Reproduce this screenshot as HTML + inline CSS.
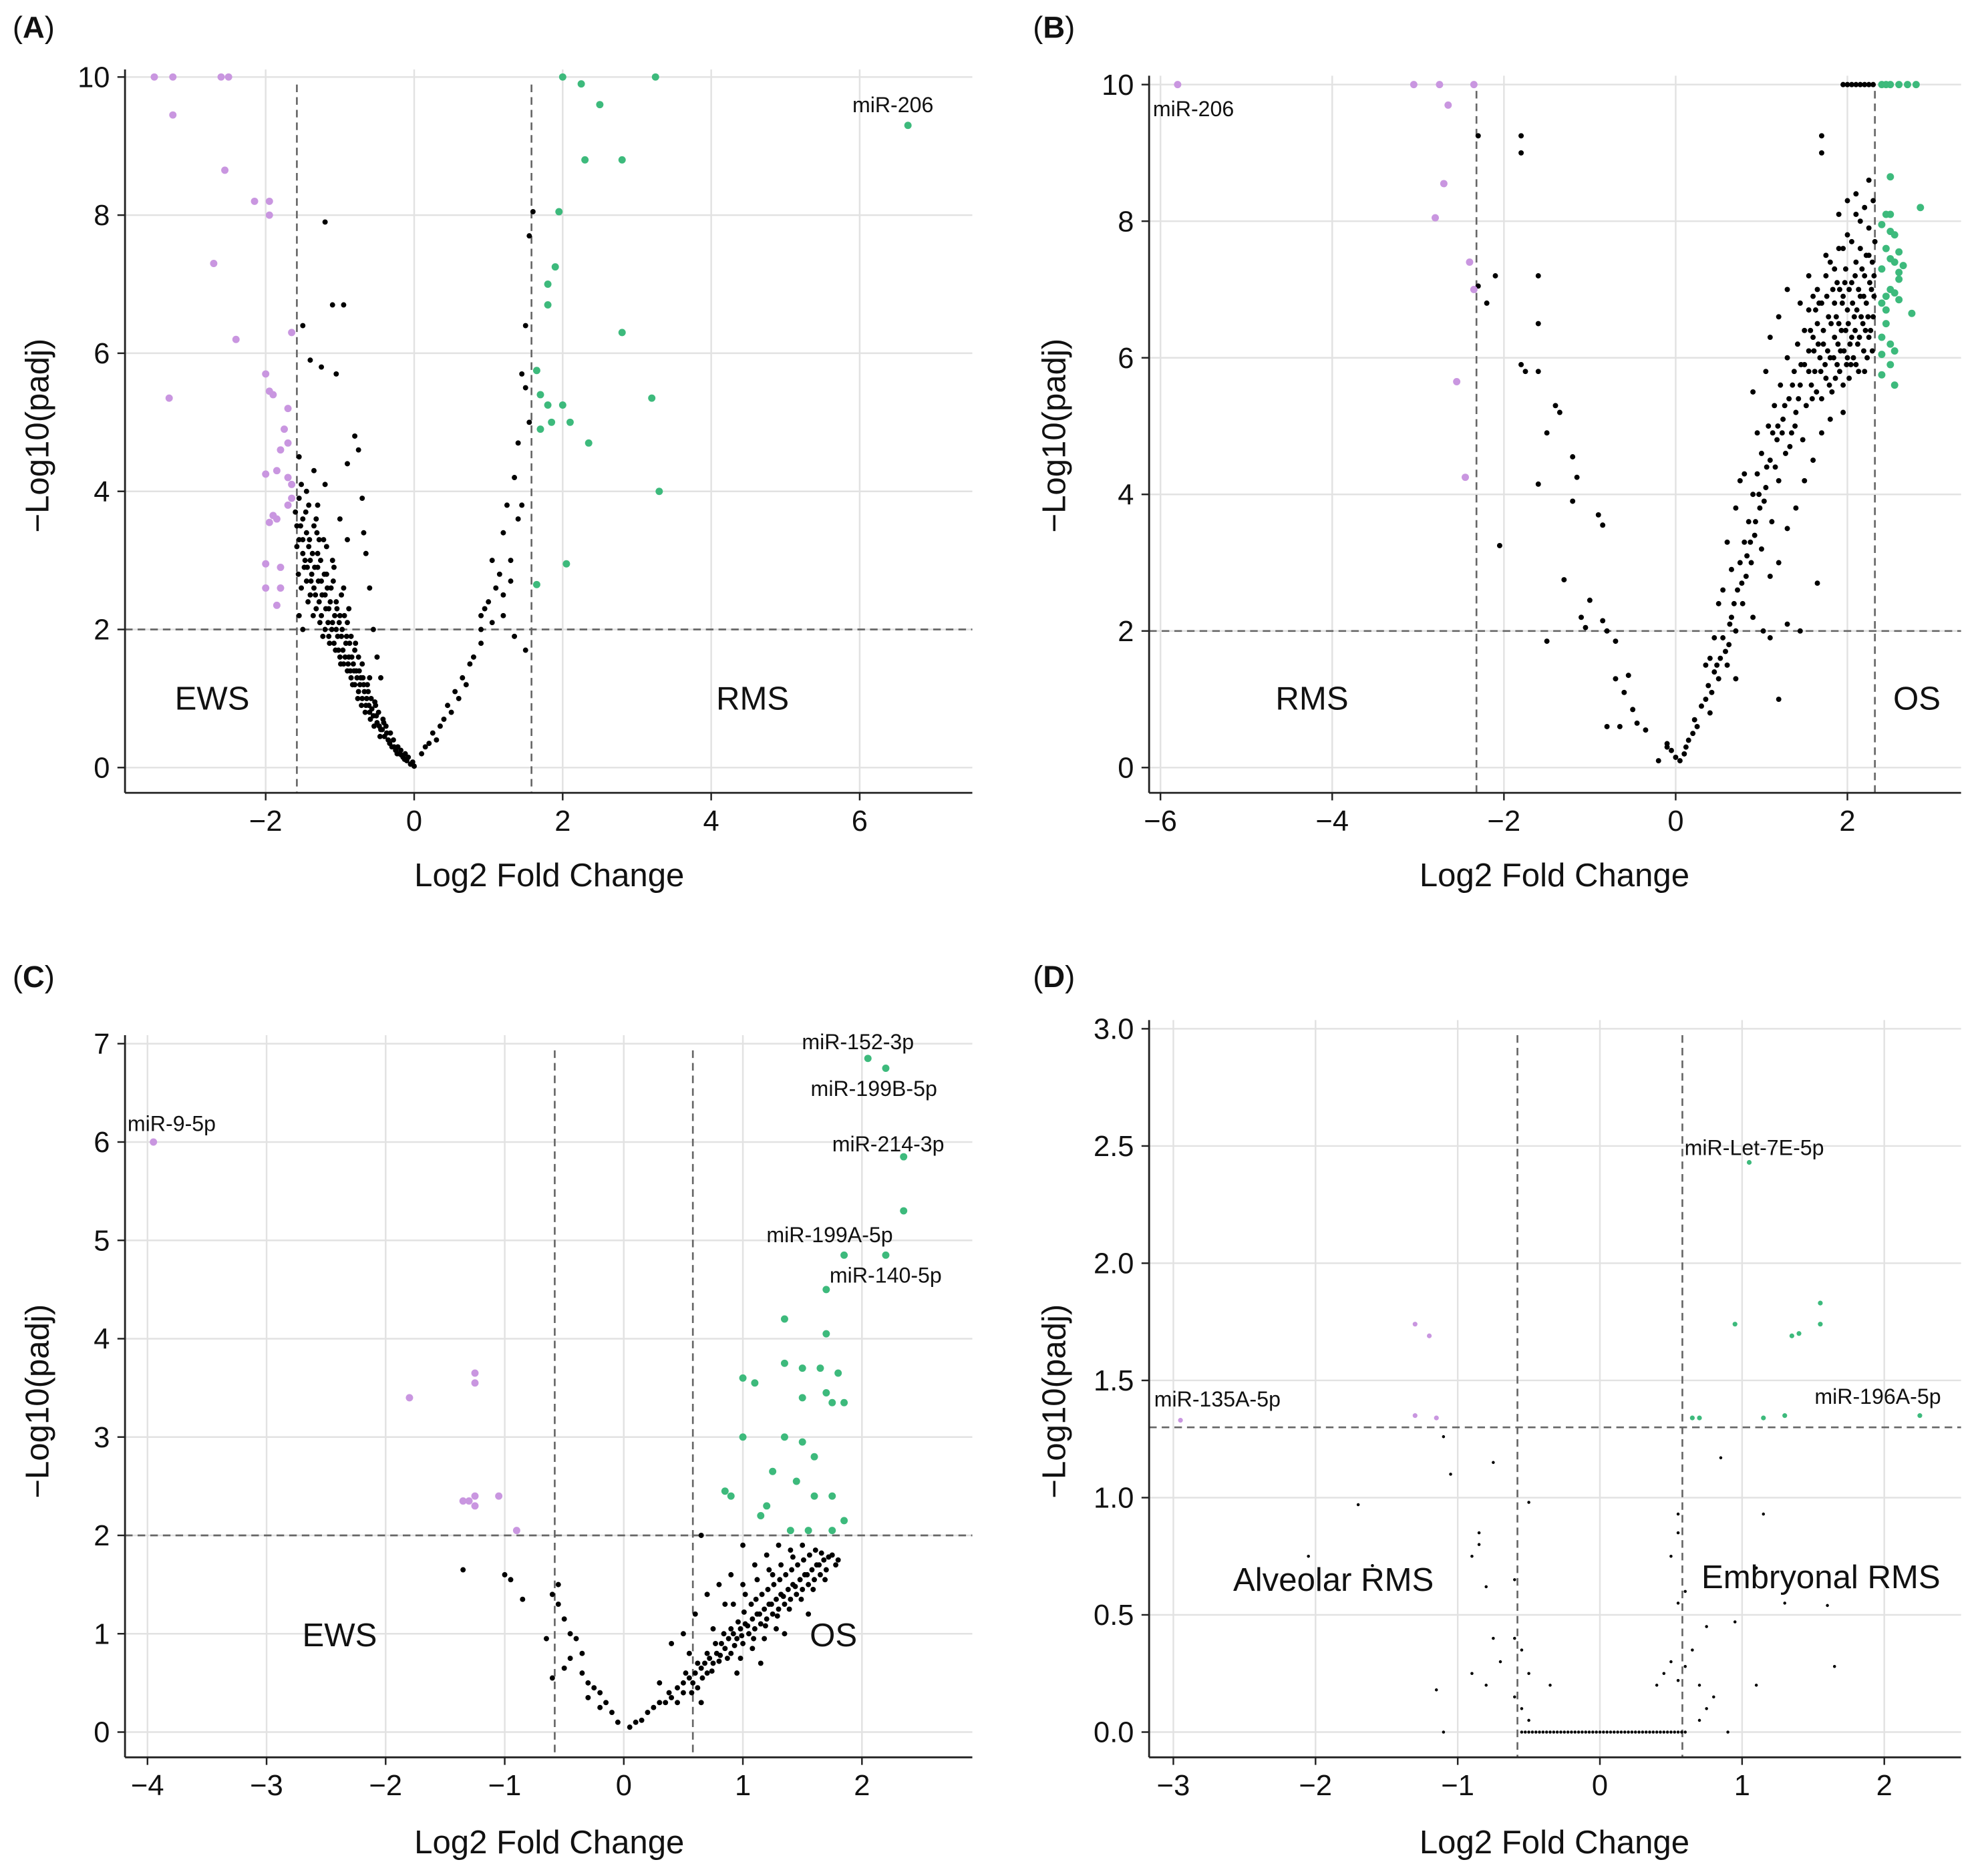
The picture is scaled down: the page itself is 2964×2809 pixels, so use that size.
<!DOCTYPE html>
<html><head><meta charset="utf-8"><style>
html,body{margin:0;padding:0;background:#fff}
svg{display:block;font-family:"Liberation Sans",sans-serif}
</style></head><body>
<svg id="fig" width="2964" height="2809" viewBox="0 0 1568 1486" xmlns="http://www.w3.org/2000/svg"></svg>
<script>
// ---------- DATA ----------
const panelATicksX=[-2,0,2,4,6];
const panelATicksY=[0,2,4,6,8,10];
const panelAPurple=[[-3.5,10],[-3.25,10],[-3.25,9.45],[-2.6,10],[-2.5,10],[-2.55,8.65],[-2.7,7.3],[-2.4,6.2],[-3.3,5.35],[-2.15,8.2],[-1.95,8.2],[-1.95,8.0],[-2.0,5.7],[-1.9,5.4],[-1.95,5.45],[-1.65,6.3],[-1.7,5.2],[-1.75,4.9],[-1.7,4.7],[-1.8,4.6],[-2.0,4.25],[-1.85,4.3],[-1.7,4.2],[-1.65,4.1],[-1.9,3.65],[-1.85,3.6],[-1.95,3.55],[-1.7,3.8],[-1.65,3.9],[-2.0,2.95],[-1.8,2.9],[-2.0,2.6],[-1.8,2.6],[-1.85,2.35]];
const panelAGreen=[[2.0,10],[2.25,9.9],[3.25,10],[2.5,9.6],[2.3,8.8],[2.8,8.8],[1.95,8.05],[1.9,7.25],[1.8,7.0],[1.8,6.7],[2.8,6.3],[1.65,5.75],[1.7,5.4],[1.8,5.25],[2.0,5.25],[1.85,5.0],[2.1,5.0],[1.7,4.9],[2.35,4.7],[3.2,5.35],[3.3,4.0],[2.05,2.95],[1.65,2.65],[6.65,9.3]];
const panelABlack=[[-1.6,3.7],[-1.58,3.5],[-1.55,3.9],[-1.55,3.3],[-1.5,3.6],[-1.5,3.1],[-1.48,2.9],[-1.45,3.4],[-1.45,2.7],[-1.42,3.2],[-1.4,3.0],[-1.4,2.5],[-1.38,2.8],[-1.35,3.5],[-1.35,2.6],[-1.32,2.3],[-1.3,3.1],[-1.3,2.9],[-1.28,2.4],[-1.25,2.7],[-1.25,2.2],[-1.22,3.3],[-1.2,2.5],[-1.2,2.0],[-1.18,2.8],[-1.15,2.3],[-1.15,1.9],[-1.12,2.6],[-1.1,2.1],[-1.1,3.0],[-1.08,1.8],[-1.05,2.4],[-1.05,2.0],[-1.02,1.7],[-1.0,2.2],[-1.0,1.6],[-0.98,1.9],[-0.95,2.6],[-0.95,1.5],[-0.92,1.8],[-0.9,1.4],[-0.9,2.1],[-0.88,1.6],[-0.85,1.3],[-0.85,1.9],[-0.82,1.5],[-0.8,1.2],[-0.8,1.7],[-0.78,1.4],[-0.75,1.1],[-0.75,1.6],[-0.72,1.3],[-0.7,1.0],[-0.7,1.5],[-0.68,1.2],[-0.65,0.9],[-0.62,1.1],[-0.6,0.8],[-0.6,1.3],[-0.58,1.0],[-0.55,0.75],[-0.52,0.9],[-0.5,0.65],[-0.48,0.8],[-0.45,0.55],[-0.42,0.7],[-0.4,0.45],[-0.38,0.6],[-0.35,0.4],[-0.32,0.5],[-0.3,0.3],[-0.28,0.4],[-0.25,0.25],[-0.22,0.3],[-0.2,0.2],[-0.18,0.25],[-0.15,0.15],[-0.12,0.2],[-0.1,0.1],[-0.08,0.15],[-0.05,0.05],[-0.02,0.08],[0,0.02],[-1.2,7.9],[-1.1,6.7],[-0.95,6.7],[-1.4,5.9],[-1.25,5.8],[-1.5,6.4],[-1.05,5.7],[-0.8,4.8],[-0.75,4.6],[-0.9,4.4],[-1.35,4.3],[-1.55,4.5],[-1.2,4.1],[-0.7,3.9],[-0.68,3.4],[-0.65,3.1],[-1.0,3.6],[-0.9,3.3],[-1.3,3.8],[-1.45,4.0],[-0.6,2.6],[-0.55,2.0],[-0.5,1.6],[-0.45,1.3],[-1.55,2.2],[-1.5,2.0],[0.1,0.2],[0.15,0.3],[0.2,0.35],[0.25,0.5],[0.3,0.4],[0.35,0.6],[0.4,0.7],[0.45,0.9],[0.5,0.8],[0.55,1.1],[0.6,1.0],[0.65,1.3],[0.7,1.2],[0.75,1.5],[0.8,1.6],[0.9,2.0],[0.95,2.3],[0.9,1.8],[1.0,2.4],[1.05,2.1],[1.1,2.6],[1.05,3.0],[1.15,2.8],[1.2,3.4],[1.2,2.5],[1.25,3.8],[1.3,3.0],[1.3,2.7],[1.35,4.2],[1.4,3.6],[1.4,4.7],[1.45,3.8],[1.5,1.7],[1.5,5.5],[1.45,5.7],[1.55,5.0],[1.5,6.4],[1.55,7.7],[1.6,8.05],[1.2,2.2],[0.9,2.2],[1.35,1.9]];
const panelABlackDense=[[-1.58,3.2],[-1.56,2.8],[-1.53,3.5],[-1.52,2.6],[-1.5,3.3],[-1.47,3.0],[-1.46,3.7],[-1.44,2.9],[-1.43,2.4],[-1.41,3.3],[-1.39,2.7],[-1.37,3.1],[-1.36,2.2],[-1.34,2.9],[-1.33,2.5],[-1.31,3.4],[-1.29,2.7],[-1.27,2.1],[-1.26,3.0],[-1.24,2.5],[-1.23,1.9],[-1.21,2.8],[-1.19,2.3],[-1.17,2.6],[-1.16,2.1],[-1.14,1.8],[-1.13,2.4],[-1.11,2.0],[-1.09,2.7],[-1.07,2.2],[-1.06,1.7],[-1.04,2.3],[-1.03,1.9],[-1.01,2.1],[-0.99,1.5],[-0.97,2.0],[-0.96,1.7],[-0.94,2.2],[-0.93,1.6],[-0.91,1.9],[-0.89,1.5],[-0.87,1.8],[-0.86,1.4],[-0.84,1.6],[-0.83,1.2],[-0.81,1.4],[-0.79,1.8],[-0.77,1.3],[-0.76,1.0],[-0.74,1.4],[-0.73,1.2],[-0.71,0.9],[-0.69,1.3],[-0.67,1.1],[-0.66,0.8],[-0.64,1.0],[-0.63,1.2],[-0.61,0.9],[-0.59,0.7],[-0.57,0.85],[-0.54,0.6],[-0.53,0.95],[-0.51,0.75],[-0.47,0.6],[-0.46,0.45],[-0.43,0.55],[-0.41,0.65],[-0.37,0.5],[-0.33,0.35],[-0.27,0.3],[-0.23,0.2],[-0.17,0.18],[-0.13,0.12],[-1.52,4.1],[-1.42,3.8],[-1.32,3.6],[-1.18,3.2],[-1.28,3.3],[-1.08,2.9],[-0.98,2.5],[-0.88,2.3]];

const panelBTicksX=[-6,-4,-2,0,2];
const panelBTicksY=[0,2,4,6,8,10];
const panelBPurple=[[-5.8,10],[-3.05,10],[-2.75,10],[-2.35,10],[-2.65,9.7],[-2.7,8.55],[-2.8,8.05],[-2.4,7.4],[-2.35,7.0],[-2.55,5.65],[-2.45,4.25]];
const panelBGreen=[[2.4,10],[2.5,10],[2.6,10],[2.7,10],[2.8,10],[2.45,10],[2.5,8.65],[2.45,8.1],[2.5,8.1],[2.4,7.95],[2.5,7.85],[2.55,7.8],[2.45,7.6],[2.6,7.55],[2.5,7.45],[2.55,7.4],[2.65,7.35],[2.4,7.3],[2.5,7.0],[2.6,7.15],[2.55,6.95],[2.4,6.8],[2.45,6.7],[2.6,6.85],[2.45,6.5],[2.4,6.3],[2.5,6.2],[2.55,6.1],[2.4,6.05],[2.5,5.9],[2.55,5.6],[2.85,8.2],[2.75,6.65],[2.4,5.75],[2.6,7.25],[2.45,6.9]];
const panelBBlack=[[-2.3,9.25],[-1.8,9.25],[-1.8,9.0],[-2.3,7.05],[-2.2,6.8],[-2.1,7.2],[-1.6,7.2],[-1.8,5.9],[-1.75,5.8],[-1.6,5.8],[-1.4,5.3],[-1.35,5.2],[-1.6,6.5],[-1.5,4.9],[-1.2,4.55],[-1.15,4.25],[-1.6,4.15],[-2.05,3.25],[-1.2,3.9],[-0.9,3.7],[-0.85,3.55],[-1.3,2.75],[-1.0,2.45],[-1.1,2.2],[-1.05,2.05],[-0.85,2.15],[-0.8,2.0],[-1.5,1.85],[-0.7,1.85],[-0.55,1.35],[-0.7,1.3],[-0.6,1.1],[-0.5,0.85],[-0.45,0.65],[-0.8,0.6],[-0.65,0.6],[-0.35,0.55],[-0.1,0.35],[-0.05,0.25],[-0.1,0.3],[0.0,0.15],[-0.2,0.1],[0.05,0.1],[0.1,0.2],[0.12,0.3],[0.15,0.4],[0.2,0.5],[0.22,0.7],[0.25,0.6],[0.3,0.9],[0.35,1.0],[0.38,1.2],[0.4,0.8],[0.45,1.4],[0.5,1.3],[0.52,1.6],[0.55,1.9],[0.6,1.5],[0.62,1.8],[0.65,2.2],[0.7,2.0],[0.72,2.6],[0.75,3.0],[0.78,2.4],[0.8,3.3],[0.82,2.8],[0.85,3.6],[0.88,3.0],[0.9,4.0],[0.92,3.4],[0.95,4.3],[0.98,3.8],[1.0,4.6],[1.0,3.2],[1.02,2.0],[1.05,4.1],[1.08,5.0],[1.1,4.5],[1.12,3.6],[1.15,5.3],[1.18,4.8],[1.2,4.2],[1.22,5.6],[1.25,5.1],[1.28,4.6],[1.3,6.0],[1.32,5.4],[1.35,4.9],[1.38,5.8],[1.4,5.2],[1.42,6.2],[1.45,5.6],[1.48,4.8],[1.5,6.4],[1.5,5.9],[1.52,5.3],[1.55,6.7],[1.55,6.1],[1.58,5.6],[1.6,6.9],[1.6,6.3],[1.62,5.8],[1.65,7.0],[1.65,6.5],[1.68,6.0],[1.7,5.4],[1.7,6.8],[1.72,6.2],[1.75,7.2],[1.75,5.7],[1.78,6.6],[1.8,6.0],[1.8,7.4],[1.82,5.5],[1.85,6.8],[1.85,6.3],[1.88,7.1],[1.88,5.9],[1.9,6.5],[1.9,7.6],[1.92,6.1],[1.95,6.9],[1.95,5.6],[1.98,7.3],[1.98,6.4],[2.0,6.0],[2.0,6.7],[2.0,7.8],[2.02,5.7],[2.05,6.3],[2.05,7.1],[2.08,6.6],[2.1,5.9],[2.1,7.4],[2.12,6.2],[2.15,6.9],[2.15,8.0],[2.18,6.5],[2.2,7.2],[2.2,5.8],[2.22,6.8],[2.25,7.5],[2.25,6.3],[2.28,7.0],[2.3,6.6],[2.3,8.3],[2.32,7.7],[2.1,8.4],[2.0,8.3],[2.25,8.6],[1.9,8.1],[1.7,9.25],[1.7,9.0],[1.75,7.5],[1.55,7.2],[1.45,6.8],[1.3,7.0],[1.2,6.6],[1.1,6.3],[1.05,5.8],[0.9,5.5],[0.95,4.9],[0.8,4.3],[0.7,3.8],[0.75,4.2],[0.6,3.3],[0.65,2.9],[0.5,2.4],[0.55,2.6],[0.45,1.9],[0.4,1.6],[0.35,1.5],[1.1,2.8],[1.2,3.0],[1.3,2.1],[1.4,3.8],[1.5,4.2],[1.6,4.5],[1.7,4.9],[1.8,5.1],[1.95,5.2],[1.65,2.7],[1.1,1.9],[1.3,3.5],[0.9,2.2],[0.7,1.3],[1.2,1.0],[1.45,2.0],[1.95,10],[2.0,10],[2.05,10],[2.1,10],[2.15,10],[2.2,10],[2.25,10],[2.3,10]];
const panelBBlackDense=[[1.72,6.4],[1.74,5.9],[1.76,6.9],[1.77,6.1],[1.79,5.6],[1.81,6.5],[1.83,7.0],[1.84,6.0],[1.86,5.7],[1.87,6.6],[1.89,6.2],[1.91,7.0],[1.91,5.8],[1.93,6.4],[1.94,6.8],[1.96,6.1],[1.97,7.1],[1.99,5.9],[2.01,6.5],[2.02,7.0],[2.03,6.2],[2.04,5.9],[2.06,6.8],[2.07,6.0],[2.09,7.2],[2.09,6.4],[2.11,6.7],[2.13,5.8],[2.13,7.0],[2.14,6.3],[2.16,6.6],[2.17,7.3],[2.19,6.1],[2.19,6.9],[2.21,6.4],[2.22,7.5],[2.23,6.0],[2.24,6.6],[2.26,7.1],[2.27,6.4],[2.29,7.4],[2.29,6.1],[2.31,6.9],[2.31,7.2],[1.55,5.8],[1.57,6.4],[1.59,5.4],[1.61,6.1],[1.63,6.7],[1.64,5.5],[1.66,6.2],[1.67,6.8],[1.69,5.8],[1.46,5.9],[1.43,5.4],[1.39,5.0],[1.36,5.6],[1.33,4.7],[1.27,5.3],[1.24,4.9],[1.19,5.0],[1.16,4.4],[1.13,4.9],[1.06,4.4],[1.03,3.9],[0.97,4.0],[0.93,3.6],[0.87,3.3],[0.83,3.1],[0.77,2.7],[0.68,2.4],[0.63,2.1],[0.58,1.7],[0.48,1.5],[0.42,1.1],[1.95,7.6],[2.05,7.7],[2.15,7.6],[2.25,7.9],[1.85,7.3],[2.2,8.2],[2.1,8.1]];

const panelCTicksX=[-4,-3,-2,-1,0,1,2];
const panelCTicksY=[0,1,2,3,4,5,6,7];
const panelCPurple=[[-3.95,6.0],[-1.8,3.4],[-1.25,3.65],[-1.25,3.55],[-1.35,2.35],[-1.3,2.35],[-1.25,2.4],[-1.25,2.3],[-1.05,2.4],[-0.9,2.05]];
const panelCGreen=[[2.05,6.85],[2.2,6.75],[2.35,5.85],[2.35,5.3],[1.85,4.85],[2.2,4.85],[1.7,4.5],[1.35,4.2],[1.7,4.05],[1.35,3.75],[1.5,3.7],[1.65,3.7],[1.8,3.65],[1.0,3.6],[1.1,3.55],[1.7,3.45],[1.5,3.4],[1.75,3.35],[1.85,3.35],[1.35,3.0],[1.0,3.0],[1.5,2.95],[1.6,2.8],[1.25,2.65],[1.45,2.55],[0.85,2.45],[0.9,2.4],[1.75,2.4],[1.6,2.4],[1.2,2.3],[1.15,2.2],[1.85,2.15],[1.4,2.05],[1.55,2.05],[1.75,2.05]];
const panelCBlack=[[-1.35,1.65],[-1.0,1.6],[-0.95,1.55],[-0.85,1.35],[-0.55,1.5],[-0.6,1.4],[-0.55,1.3],[-0.5,1.15],[-0.45,1.0],[-0.4,0.95],[-0.35,0.8],[-0.5,0.65],[-0.6,0.55],[-0.35,0.6],[-0.3,0.5],[-0.25,0.45],[-0.2,0.4],[-0.15,0.3],[-0.1,0.2],[-0.05,0.1],[-0.2,0.25],[-0.65,0.95],[-0.45,0.75],[-0.3,0.35],[0.05,0.05],[0.1,0.1],[0.15,0.12],[0.2,0.2],[0.25,0.25],[0.3,0.3],[0.35,0.3],[0.38,0.4],[0.4,0.35],[0.45,0.45],[0.5,0.5],[0.5,0.4],[0.55,0.55],[0.58,0.5],[0.6,0.6],[0.62,0.45],[0.65,0.65],[0.68,0.7],[0.7,0.6],[0.72,0.75],[0.75,0.7],[0.78,0.8],[0.8,0.72],[0.82,0.9],[0.85,0.85],[0.88,0.95],[0.9,0.8],[0.92,1.0],[0.95,0.95],[0.98,1.05],[1.0,0.9],[1.02,1.1],[1.05,1.0],[1.08,1.15],[1.1,1.05],[1.12,1.2],[1.15,1.1],[1.18,1.25],[1.2,1.15],[1.22,1.3],[1.25,1.2],[1.28,1.35],[1.3,1.25],[1.32,1.4],[1.35,1.3],[1.38,1.45],[1.4,1.35],[1.42,1.5],[1.45,1.4],[1.48,1.55],[1.5,1.45],[1.52,1.6],[1.55,1.5],[1.58,1.65],[1.6,1.55],[1.62,1.7],[1.65,1.6],[1.68,1.75],[1.7,1.65],[1.75,1.8],[1.8,1.75],[0.4,0.9],[0.5,1.0],[0.6,1.2],[0.65,2.0],[0.7,1.4],[0.8,1.5],[0.85,1.3],[0.9,1.6],[1.0,1.5],[1.1,1.7],[1.2,1.8],[1.3,1.9],[1.4,1.85],[1.0,1.9],[0.75,1.05],[0.55,0.8],[1.15,0.7],[0.95,0.6],[0.3,0.5],[1.35,1.0],[1.5,1.9],[1.55,1.2],[1.25,1.6],[0.65,0.3]];
const panelCBlackDense=[[0.62,0.7],[0.66,0.55],[0.7,0.8],[0.74,0.62],[0.77,0.9],[0.81,0.78],[0.84,1.0],[0.87,0.75],[0.9,1.05],[0.93,0.88],[0.96,1.12],[0.99,0.98],[1.01,1.22],[1.04,1.08],[1.07,1.3],[1.09,0.95],[1.11,1.35],[1.14,1.2],[1.16,1.4],[1.19,1.08],[1.21,1.45],[1.24,1.3],[1.26,1.5],[1.29,1.18],[1.31,1.55],[1.34,1.38],[1.36,1.6],[1.39,1.25],[1.41,1.65],[1.44,1.48],[1.46,1.7],[1.49,1.35],[1.51,1.75],[1.54,1.6],[1.56,1.8],[1.59,1.45],[1.61,1.85],[1.64,1.7],[1.66,1.82],[1.69,1.55],[1.72,1.78],[1.78,1.7],[0.92,1.3],[1.02,1.4],[1.12,1.55],[1.22,1.65],[1.32,1.7],[1.42,1.78],[0.98,0.75],[1.08,0.85],[1.18,0.95],[1.28,1.05],[0.45,0.3],[0.52,0.6],[0.57,0.4]];

const panelDTicksX=[-3,-2,-1,0,1,2];
const panelDTicksY=[0,0.5,1.0,1.5,2.0,2.5,3.0];
const panelDPurple=[[-2.95,1.33],[-1.3,1.74],[-1.2,1.69],[-1.3,1.35],[-1.15,1.34]];
const panelDGreen=[[1.05,2.43],[0.95,1.74],[1.4,1.7],[1.35,1.69],[1.55,1.74],[1.55,1.83],[0.65,1.34],[0.7,1.34],[1.15,1.34],[1.3,1.35],[2.25,1.35]];
const panelDBlack=[[-1.1,1.26],[-1.05,1.1],[-0.75,1.15],[-0.5,0.98],[-1.7,0.97],[-2.05,0.75],[-1.6,0.71],[-0.85,0.85],[-0.85,0.8],[-0.9,0.75],[-0.8,0.62],[-0.6,0.65],[-0.75,0.4],[-0.6,0.4],[-0.9,0.25],[-1.15,0.18],[-0.8,0.2],[-0.7,0.3],[-0.55,0.35],[-0.5,0.25],[-0.35,0.2],[-0.6,0.15],[-0.5,0.05],[-0.55,0.1],[-1.1,0.0],[0.55,0.93],[0.55,0.85],[0.6,0.6],[0.5,0.75],[0.55,0.55],[0.95,0.47],[1.1,0.7],[1.15,0.93],[1.3,0.55],[1.6,0.54],[1.65,0.28],[0.4,0.2],[0.45,0.25],[0.5,0.3],[0.6,0.28],[0.55,0.22],[0.7,0.2],[0.8,0.15],[0.65,0.35],[0.75,0.45],[0.85,1.17],[1.1,0.2],[0.7,0.05],[0.75,0.1],[0.9,0.0],[-0.55,0],[-0.5,0],[-0.45,0],[-0.4,0],[-0.35,0],[-0.3,0],[-0.25,0],[-0.2,0],[-0.15,0],[-0.1,0],[-0.05,0],[0,0],[0.05,0],[0.1,0],[0.15,0],[0.2,0],[0.25,0],[0.3,0],[0.35,0],[0.4,0],[0.45,0],[0.5,0],[0.55,0],[0.6,0],[-0.525,0],[-0.475,0],[-0.425,0],[-0.375,0],[-0.325,0],[-0.275,0],[-0.225,0],[-0.175,0],[-0.125,0],[-0.075,0],[-0.025,0],[0.025,0],[0.075,0],[0.125,0],[0.175,0],[0.225,0],[0.275,0],[0.325,0],[0.375,0],[0.425,0],[0.475,0],[0.525,0],[0.575,0]];

// ---------- DRAW ----------
const NS="http://www.w3.org/2000/svg";
const svg=document.getElementById('fig');
function mk(tag,attrs,parent){const e=document.createElementNS(NS,tag);for(const k in attrs)e.setAttribute(k,attrs[k]);(parent||svg).appendChild(e);return e;}
const fmt=v=>String(v).replace('-','\u2212');

const panels=[
 {id:'a',label:'A',left:99,right:770,top:55,bottom:628,x0:328,kx:58.8,y0:608,ky:54.7,tx:panelATicksX,ty:panelATicksY,dec:false,
  purple:panelAPurple,green:panelAGreen,black:panelABlack.concat(panelABlackDense),vth:[-1.58,1.58],hth:2,rb:2.1,rc:2.9,
  regions:[['EWS',168,553],['RMS',596,553]],notes:[['miR-206',675,89]],xt:435,xty:702,ytx:30,yty:345,lx:10,ly:30},
 {id:'b',label:'B',left:910,right:1553,top:60,bottom:628,x0:1327,kx:68,y0:608,ky:54.1,tx:panelBTicksX,ty:panelBTicksY,dec:false,
  purple:panelBPurple,green:panelBGreen,black:panelBBlack.concat(panelBBlackDense),vth:[-2.32,2.32],hth:2,rb:2.1,rc:2.9,
  regions:[['RMS',1039,553],['OS',1518,553]],notes:[['miR-206',913,92]],xt:1231,xty:702,ytx:835,yty:345,lx:818,ly:30},
 {id:'c',label:'C',left:99,right:770,top:820,bottom:1392,x0:494,kx:94.3,y0:1372,ky:77.9,tx:panelCTicksX,ty:panelCTicksY,dec:false,
  purple:panelCPurple,green:panelCGreen,black:panelCBlack.concat(panelCBlackDense),vth:[-0.58,0.58],hth:2,rb:2.1,rc:2.9,
  regions:[['EWS',269,1295],['OS',660,1295]],notes:[['miR-152-3p',635,831],['miR-199B-5p',642,868],['miR-214-3p',659,912],['miR-199A-5p',607,984],['miR-140-5p',657,1016],['miR-9-5p',101,896]],xt:435,xty:1468,ytx:30,yty:1110,lx:10,ly:782},
 {id:'d',label:'D',left:910,right:1553,top:808,bottom:1392,x0:1267,kx:112.6,y0:1372,ky:185.7,tx:panelDTicksX,ty:panelDTicksY,dec:true,
  purple:panelDPurple,green:panelDGreen,black:panelDBlack,vth:[-0.58,0.58],hth:1.3,rb:1.2,rc:1.9,
  regions:[['Alveolar RMS',1056,1251],['Embryonal RMS',1442,1249]],notes:[['miR-Let-7E-5p',1334,915],['miR-135A-5p',914,1114],['miR-196A-5p',1437,1112]],xt:1231,xty:1468,ytx:835,yty:1110,lx:818,ly:782}
];

panels.forEach(p=>{
 const X=v=>p.x0+v*p.kx, Y=v=>p.y0-v*p.ky;
 const g=mk('g',{});
 
 
 p.tx.forEach(t=>{const l=mk('line',{x1:X(t),x2:X(t),y1:p.top,y2:p.bottom,stroke:'#e2e2e2','stroke-width':1.3},g);
  });
 p.ty.forEach(t=>{const l=mk('line',{x1:p.left,x2:p.right,y1:Y(t),y2:Y(t),stroke:'#e2e2e2','stroke-width':1.3},g);
  });
 p.vth.forEach(t=>{const l=mk('line',{x1:X(t),x2:X(t),y1:p.top+12,y2:p.bottom,stroke:'#666','stroke-width':1.4,'stroke-dasharray':'6,4'},g);
  });
 const hl=mk('line',{x1:p.left,x2:p.right,y1:Y(p.hth),y2:Y(p.hth),stroke:'#666','stroke-width':1.4,'stroke-dasharray':'6,4'},g);
 
 p.black.forEach(d=>{const c=mk('circle',{cx:X(d[0]),cy:Y(d[1]),r:p.rb,fill:'#000'},g);
  });
 p.purple.forEach(d=>{const c=mk('circle',{cx:X(d[0]),cy:Y(d[1]),r:p.rc,fill:'#c996e0'},g);
  });
 p.green.forEach(d=>{const c=mk('circle',{cx:X(d[0]),cy:Y(d[1]),r:p.rc,fill:'#3dba7c'},g);
  });
 const ya=mk('line',{x1:p.left,x2:p.left,y1:p.top,y2:p.bottom,stroke:'#222','stroke-width':1.5},g);
 
 const xa=mk('line',{x1:p.left,x2:p.right,y1:p.bottom,y2:p.bottom,stroke:'#222','stroke-width':1.5},g);
 
 p.tx.forEach(t=>{mk('line',{x1:X(t),x2:X(t),y1:p.bottom,y2:p.bottom+6,stroke:'#222','stroke-width':1.3},g);
  const tt=mk('text',{x:X(t),y:p.bottom+30,'font-size':23,'text-anchor':'middle',fill:'#111'},g);
  tt.textContent=fmt(t);
  });
 p.ty.forEach(t=>{mk('line',{x1:p.left-6,x2:p.left,y1:Y(t),y2:Y(t),stroke:'#222','stroke-width':1.3},g);
  const tt=mk('text',{x:p.left-12,y:Y(t)+8,'font-size':23,'text-anchor':'end',fill:'#111'},g);
  tt.textContent=p.dec?t.toFixed(1):String(t);
  });
 const xt=mk('text',{x:p.xt,y:p.xty,'font-size':26,'text-anchor':'middle',fill:'#111'},g);
 xt.textContent='Log2 Fold Change';
 
 const yt=mk('text',{x:p.ytx,y:p.yty,'font-size':26,'text-anchor':'middle',fill:'#111',transform:`rotate(-90 ${p.ytx} ${p.yty})`,'dominant-baseline':'central'},g);
 yt.textContent='\u2212Log10(padj)';
 
 p.regions.forEach(r=>{const t=mk('text',{x:r[1],y:r[2]+9,'font-size':26,'text-anchor':'middle',fill:'#111'},g);
  t.textContent=r[0];});
 p.notes.forEach(n=>{const t=mk('text',{x:n[1],y:n[2],'font-size':17,fill:'#111'},g);
  t.textContent=n[0];});
 const pl=mk('text',{x:p.lx,y:p.ly,'font-size':24,fill:'#111'},g);
 pl.innerHTML='(<tspan font-weight="bold">'+p.label+'</tspan>)';
 
});
</script>
</body></html>
